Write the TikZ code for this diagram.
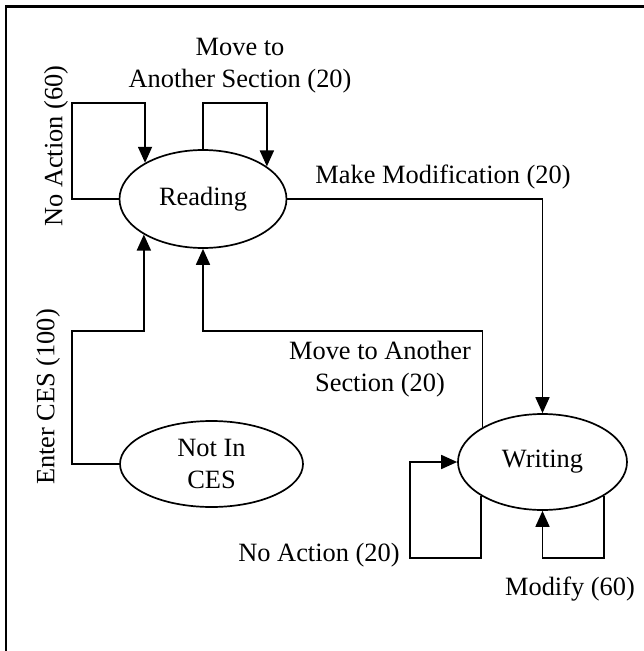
\documentclass[tikz,border=0pt]{standalone}
\usepackage{fontspec}
\setmainfont{Liberation Serif}
\usetikzlibrary{arrows.meta,shapes.geometric}
\begin{document}
\begin{tikzpicture}[x=1pt,y=-1pt,
  state/.style={draw,ellipse,line width=1.7pt,inner sep=0pt,
    font=\fontsize{26.4}{31.7}\selectfont,align=center},
  lbl/.style={inner sep=0pt,font=\fontsize{26.4}{31.7}\selectfont,align=center},
  arr/.style={line width=1.7pt,-{Triangle[length=16pt,width=14pt]}}]
\useasboundingbox (0,0) rectangle (644,651);
% outer frame
\draw[line width=2.4pt] (6,651) -- (6,6.5) -- (644,6.5);

% states
\node[state,minimum width=167pt,minimum height=98pt] (R) at (203,199) {Reading};
\node[state,minimum width=169pt,minimum height=96pt] (W) at (542.5,462) {Writing};
\node[state,minimum width=183pt,minimum height=86pt] (N) at (211.5,464) {Not In\\CES};

% transitions out of Reading
\draw[arr] (R.west) -| (72,103) -| (R.148.71);
\draw[arr] (R.north) -- (R.north |- 0,103) -| (R.27.88);
\draw[arr] (R.east) -| (W.north);

% Not In CES -> Reading
\draw[arr] (N.west) -| (72,331) -| (R.211.29);

% transitions out of Writing
\draw[arr] (W.150.2) |- (R.south |- 0,331) -- (R.south);
\draw[arr] (W.209.8) |- (410,558) |- (W.west);
\draw[arr] (W.-29.8) |- (W.south |- 0,558) -- (W.south);

% labels
\node[lbl,rotate=90] (la) at (56,146) {No Action (60)};
\node[lbl] (lb) at (240,66) {Move to\\Another Section (20)};
\node[lbl] (lc) at (443,177) {Make Modification (20)};
\node[lbl] (ld) at (380,369) {Move to Another\\Section (20)};
\node[lbl,rotate=90] (le) at (48,397) {Enter CES (100)};
\node[lbl] (lf) at (319,555) {No Action (20)};
\node[lbl] (lg) at (570,589) {Modify (60)};
\end{tikzpicture}
\end{document}
